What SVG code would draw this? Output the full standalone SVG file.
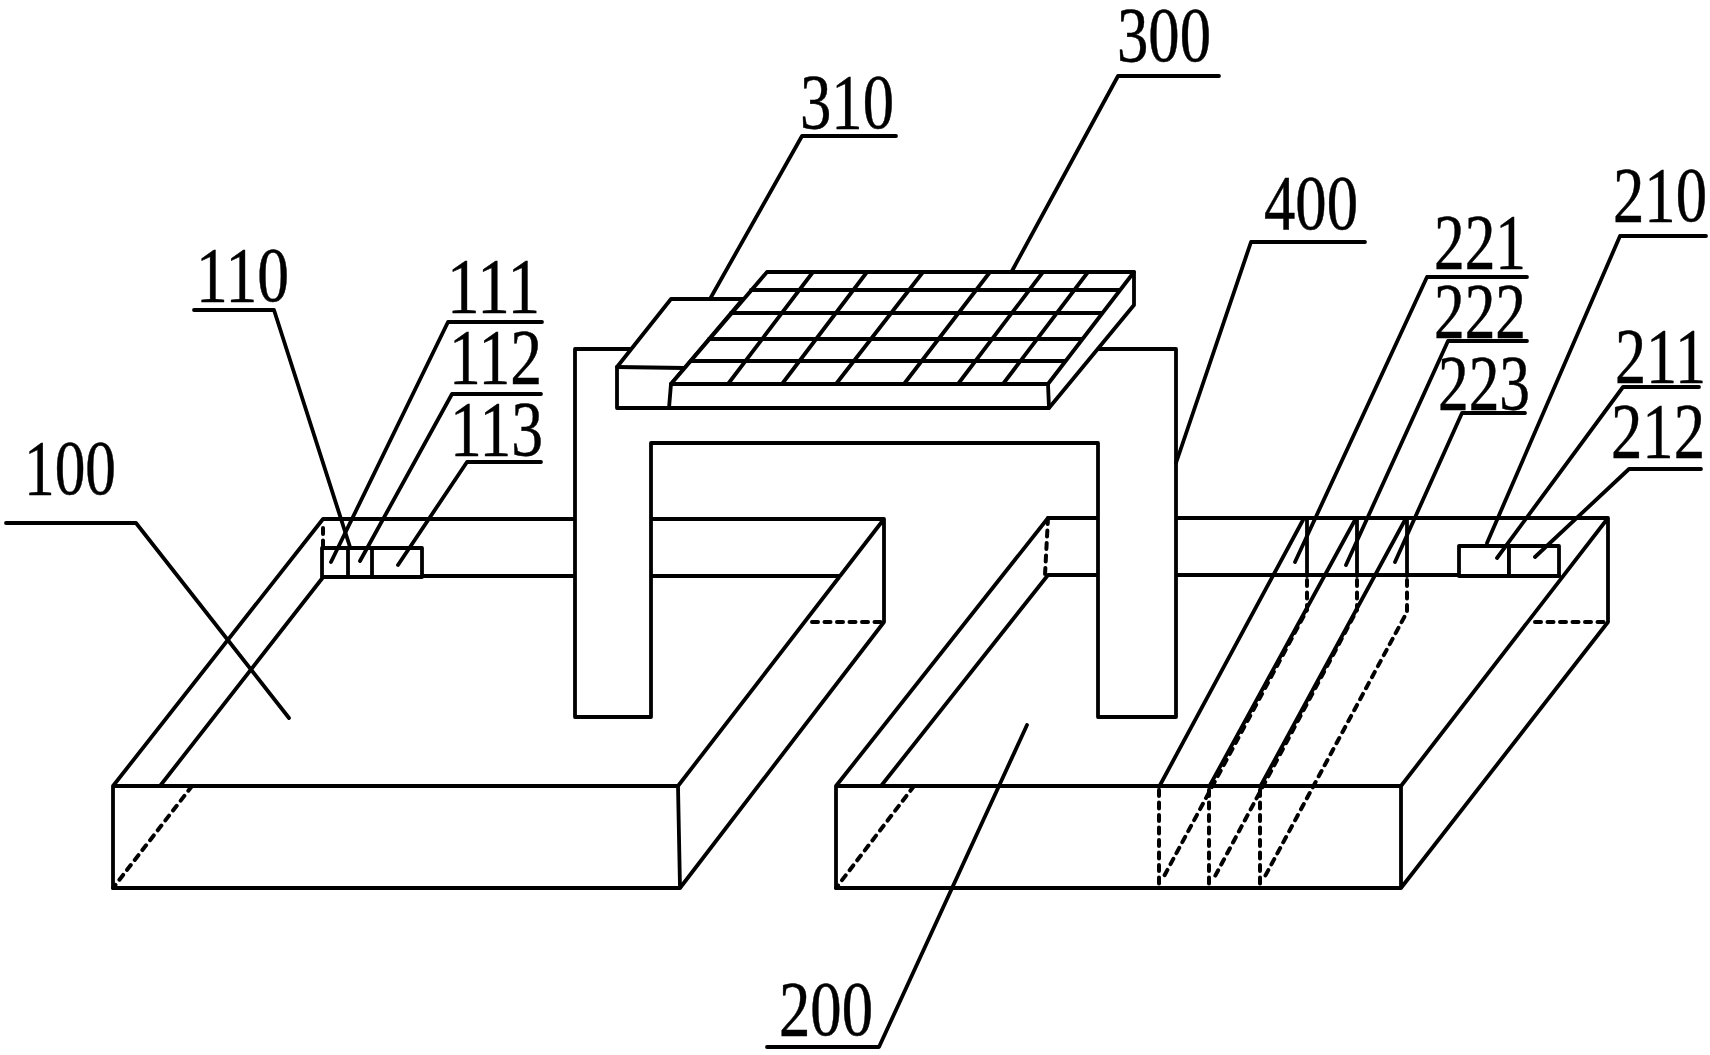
<svg xmlns="http://www.w3.org/2000/svg" width="1710" height="1055" viewBox="0 0 1710 1055">
<style>
.s{fill:none;stroke:#000;stroke-width:3.8;stroke-linejoin:round;stroke-linecap:round}
.w{fill:#fff;stroke:#000;stroke-width:3.8;stroke-linejoin:round;stroke-linecap:round}
.d{fill:none;stroke:#000;stroke-width:4;stroke-dasharray:6 6.5;stroke-linecap:round}
.l{fill:none;stroke:#000;stroke-width:3.8;stroke-linejoin:round;stroke-linecap:round}
text{font-family:"Liberation Serif","Times New Roman",serif;font-size:79px;fill:#000;stroke:#000;stroke-width:.5}
</style>
<rect width="1710" height="1055" fill="#fff"/>
<g id="node-100">
<path class="s" d="M113 786L323 519H884L678 786H113ZM113 786V888H680L884 622V519M678 786L680 888M160 786L324 576H840"/>
<path class="d" d="M192 786L113 888M812 622H884"/>
</g>
<g id="node-110">
<path class="w" d="M322 548H422V577H322Z"/>
<path class="s" d="M348 548V577M372 548V577"/>
<path class="d" d="M323 528V546"/>
</g>
<g id="node-200">
<path class="s" d="M836 786L1048 518H1608L1401 786H836ZM836 786V888H1401L1608 622V518M1401 786V888M881 786L1048 575H1559"/>
<path class="d" d="M914 786L836 888M1048 518L1045 575M1535 622H1608"/>
</g>
<g id="node-210">
<path class="w" d="M1459 546H1509V576H1459Z"/>
<path class="w" d="M1509 546H1559V576H1509Z"/>
</g>
<g id="node-220">
<path class="s" d="M1303 520L1159 787M1355 520L1209 787M1405 520L1260 787M1307 520V576M1357 520V576M1407 520V576"/>
<path class="d" d="M1307 580V610L1162 880M1357 580V610L1213 880M1407 580V612L1263 880M1159 790V888M1209 790V888M1260 790V888"/>
</g>
<g id="node-400">
<path class="w" d="M575 349H1176V717H1098V443H651V717H575Z"/>
</g>
<g id="node-310">
<path class="w" d="M617 367L671 299H743L671 384V408H617Z"/>
<path class="s" d="M617 367L685 368"/>
</g>
<g id="node-300">
<path class="w" d="M767 272H1134V305L1049 408H669L671 384Z"/>
<path class="s" d="M671 384H1048L1134 272M1048 384L1049 408M751 290H1120M731 313H1102M709 339H1082M691 361H1065M813 272L728 384M867 272L782 384M923 272L836 384M990 272L904 384M1043 272L958 384M1088 272L1003 384"/>
</g>
<g id="connectors">
<path class="l" d="M6 523H136L289 718"/>
<path class="l" d="M194 310H274L350 547"/>
<path class="l" d="M542 322H448L331 562"/>
<path class="l" d="M541 394H452L360 561"/>
<path class="l" d="M541 462H467L398 565"/>
<path class="l" d="M1219 76H1118L1012 271"/>
<path class="l" d="M896 136H802L710 299"/>
<path class="l" d="M1365 242H1251L1176 463"/>
<path class="l" d="M767 1047H879L1027 725"/>
<path class="l" d="M1527 277H1427L1295 562"/>
<path class="l" d="M1527 341H1448L1346 565"/>
<path class="l" d="M1525 413H1462L1395 562"/>
<path class="l" d="M1706 236H1620L1487 543"/>
<path class="l" d="M1699 387H1623L1497 558"/>
<path class="l" d="M1701 469H1629L1535 557"/>
</g>
<g id="labels">
<text x="24" y="494" textLength="92" lengthAdjust="spacingAndGlyphs">100</text>
<text x="196" y="301" textLength="93" lengthAdjust="spacingAndGlyphs">110</text>
<text x="447" y="312" textLength="93" lengthAdjust="spacingAndGlyphs">111</text>
<text x="449" y="383" textLength="93" lengthAdjust="spacingAndGlyphs">112</text>
<text x="450" y="455" textLength="93" lengthAdjust="spacingAndGlyphs">113</text>
<text x="1117" y="61" textLength="94" lengthAdjust="spacingAndGlyphs">300</text>
<text x="800" y="128" textLength="94" lengthAdjust="spacingAndGlyphs">310</text>
<text x="1264" y="229" textLength="94" lengthAdjust="spacingAndGlyphs">400</text>
<text x="779" y="1035" textLength="94" lengthAdjust="spacingAndGlyphs">200</text>
<text x="1434" y="268" textLength="92" lengthAdjust="spacingAndGlyphs">221</text>
<text x="1434" y="337" textLength="92" lengthAdjust="spacingAndGlyphs">222</text>
<text x="1438" y="409" textLength="92" lengthAdjust="spacingAndGlyphs">223</text>
<text x="1613" y="221" textLength="94" lengthAdjust="spacingAndGlyphs">210</text>
<text x="1615" y="382" textLength="91" lengthAdjust="spacingAndGlyphs">211</text>
<text x="1611" y="457" textLength="94" lengthAdjust="spacingAndGlyphs">212</text>
</g>
</svg>
